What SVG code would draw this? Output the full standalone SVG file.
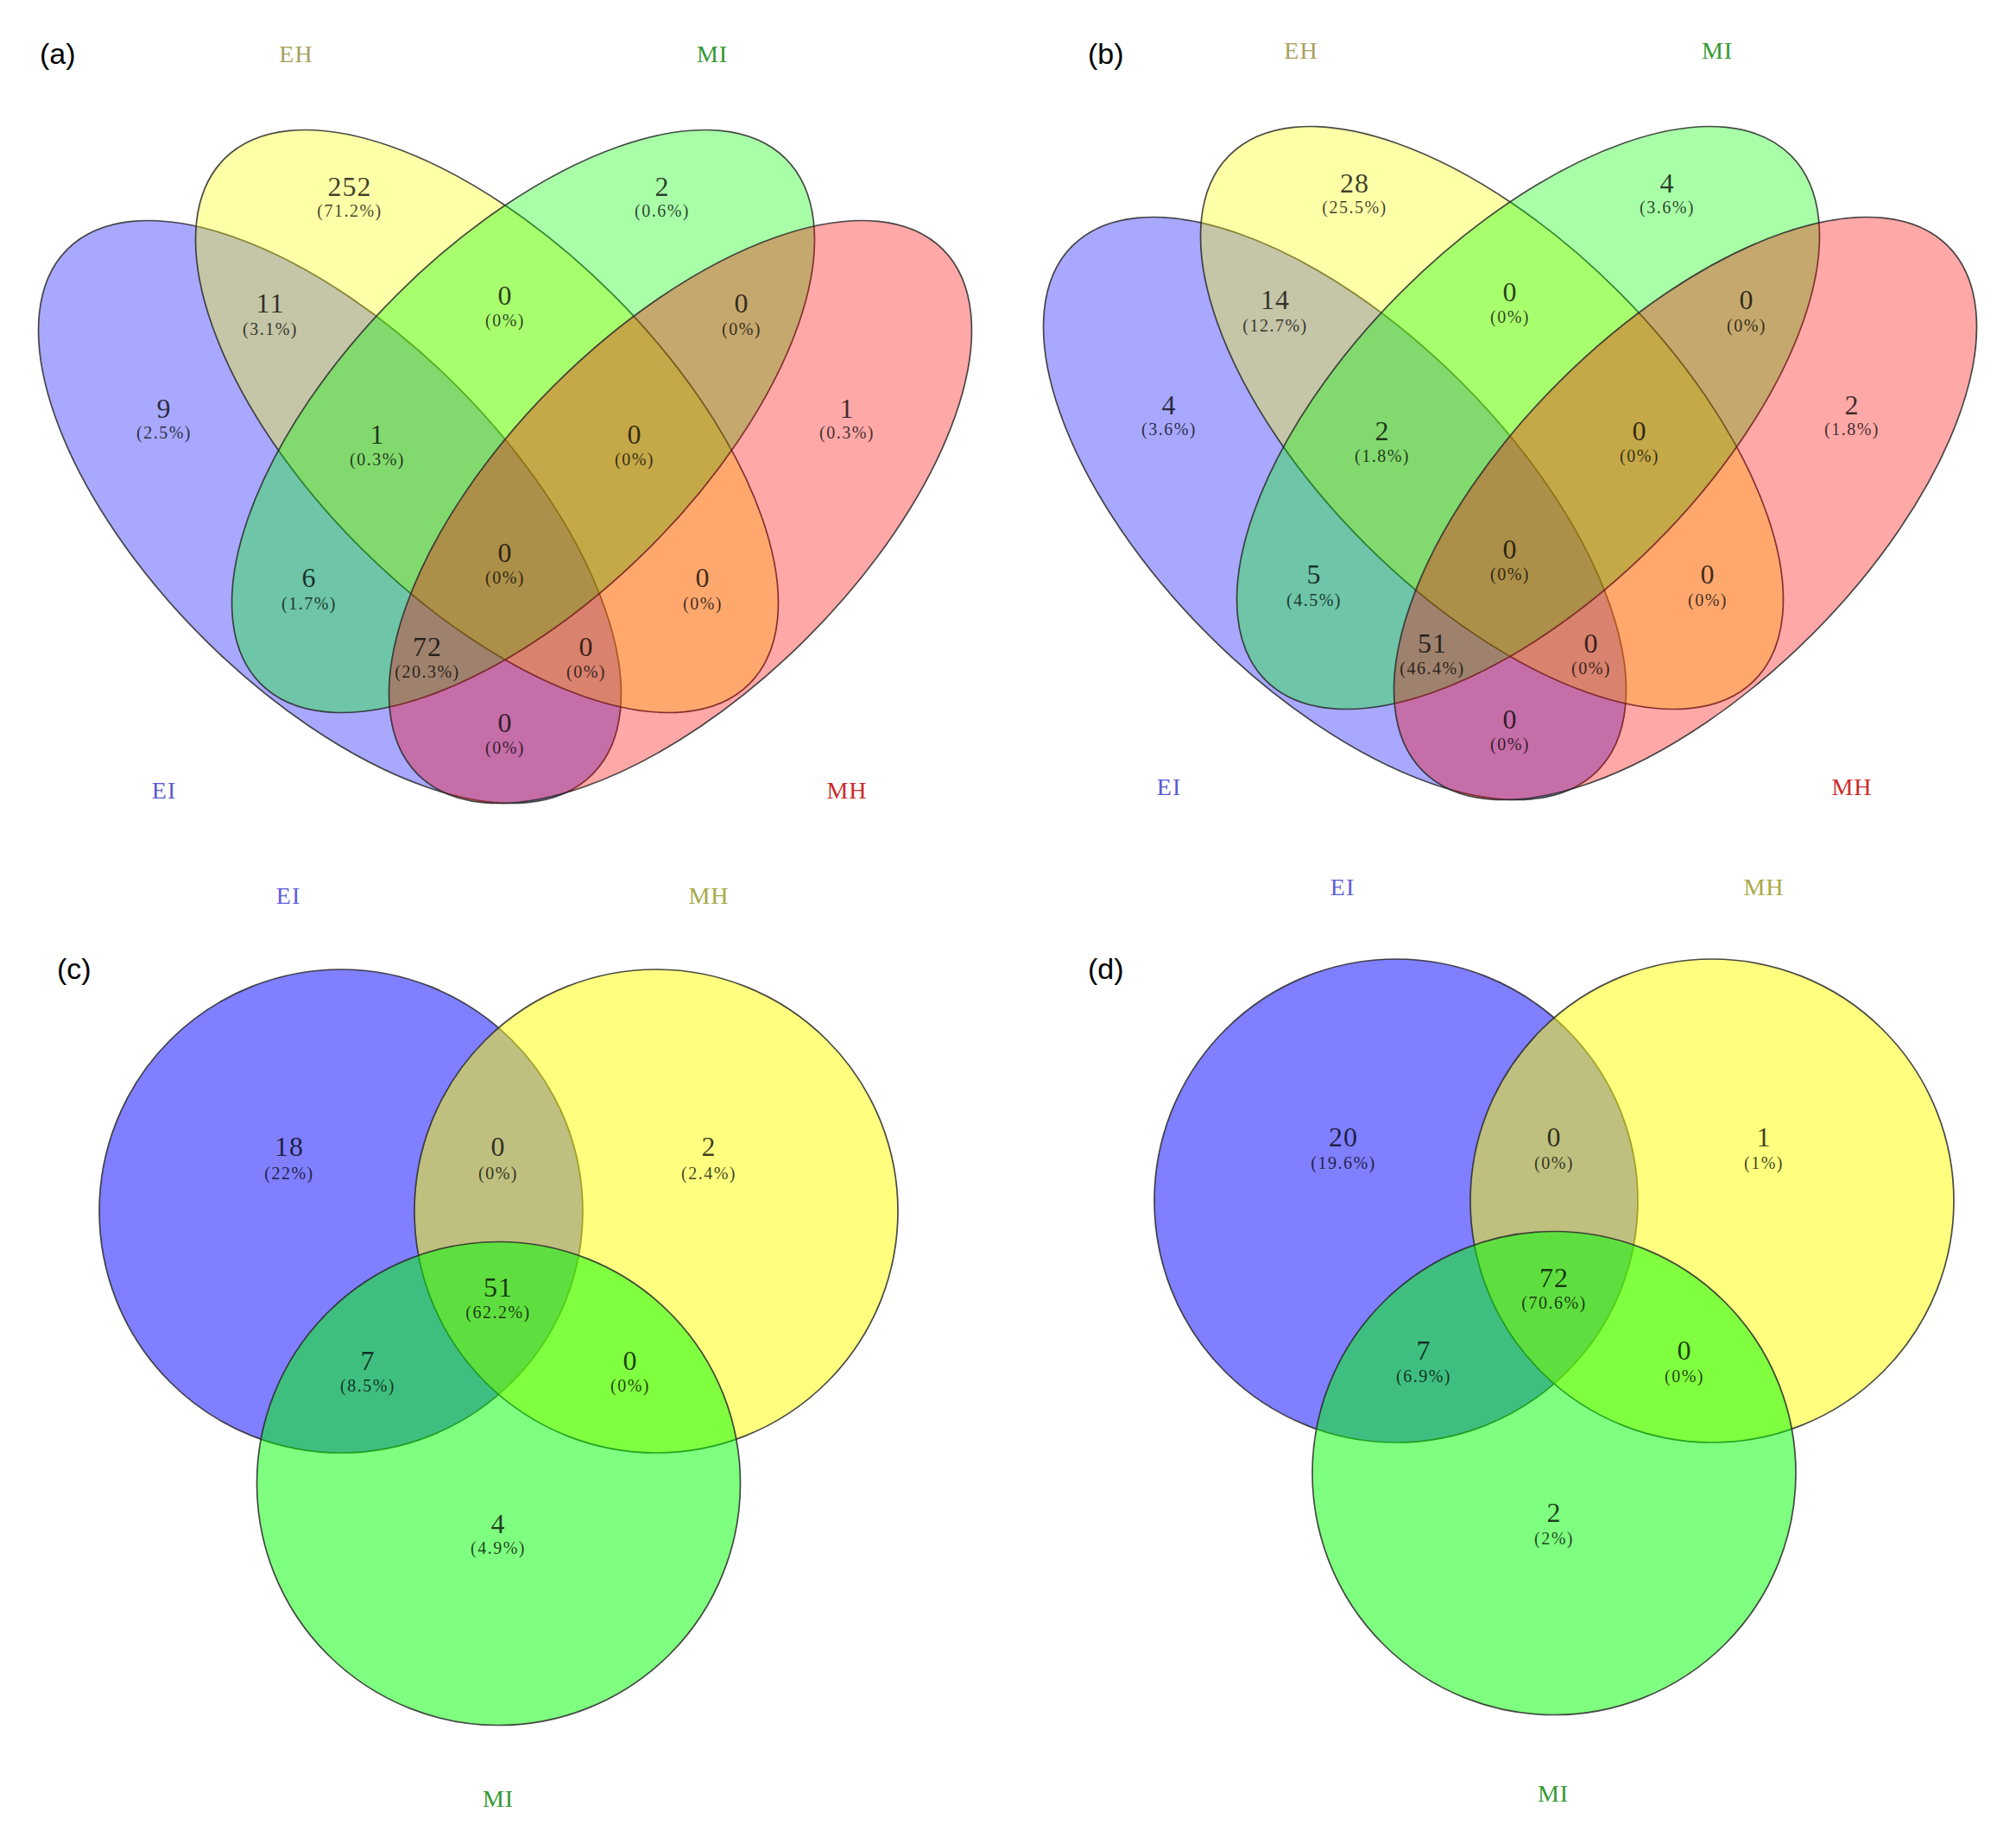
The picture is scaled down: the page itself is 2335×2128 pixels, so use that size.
<svg xmlns="http://www.w3.org/2000/svg" width="2335" height="2128" viewBox="0 0 2335 2128">
<style>
  .bg{fill:#ffffff}
  .e4{stroke:#2a2a2a;stroke-width:1.7;stroke-opacity:0.85;fill-opacity:0.34}
  .c3{stroke:#2a2a2a;stroke-width:1.7;stroke-opacity:0.85;fill-opacity:0.5}
  .blue{fill:#0000ff}
  .yellow{fill:#ffff00}
  .green{fill:#00ff00}
  .red{fill:#ff0000}
  .num{font-family:"Liberation Serif","DejaVu Serif",serif;font-size:32px;text-anchor:middle;fill:#000;fill-opacity:0.75;letter-spacing:1px}
  .pct{font-family:"Liberation Serif","DejaVu Serif",serif;font-size:20px;text-anchor:middle;fill:#000;fill-opacity:0.75;letter-spacing:1.5px}
  .lab{font-family:"Liberation Serif","DejaVu Serif",serif;font-size:28px;text-anchor:middle;letter-spacing:1px}
  .panel{font-family:"Liberation Sans",Arial,sans-serif;font-size:34px;fill:#000}
</style>
<rect class="bg" x="0" y="0" width="2335" height="2128"/>

<!-- Panel (a) -->
<g id="panel-a">
  <text class="panel" x="46" y="74">(a)</text>
  <g id="a-EI"><ellipse class="e4 blue" cx="382" cy="593" rx="430" ry="207" transform="rotate(45 382 593)"/><text class="lab" x="190" y="925" fill="#5a5ad0">EI</text></g>
  <g id="a-EH"><ellipse class="e4 yellow" cx="564" cy="488" rx="430" ry="207" transform="rotate(45 564 488)"/><text class="lab" x="343" y="72" fill="#a8a060">EH</text></g>
  <g id="a-MI"><ellipse class="e4 green" cx="606" cy="488" rx="430" ry="207" transform="rotate(-45 606 488)"/><text class="lab" x="825" y="72" fill="#339933">MI</text></g>
  <g id="a-MH"><ellipse class="e4 red" cx="788" cy="593" rx="430" ry="207" transform="rotate(-45 788 593)"/><text class="lab" x="981" y="925" fill="#cc2a2a">MH</text></g>
  <g id="a-values">
    <text class="num" x="190" y="484">9</text><text class="pct" x="190" y="508">(2.5%)</text>
    <text class="num" x="405" y="227">252</text><text class="pct" x="405" y="251">(71.2%)</text>
    <text class="num" x="767" y="227">2</text><text class="pct" x="767" y="251">(0.6%)</text>
    <text class="num" x="981" y="484">1</text><text class="pct" x="981" y="508">(0.3%)</text>
    <text class="num" x="313" y="362">11</text><text class="pct" x="313" y="388">(3.1%)</text>
    <text class="num" x="585" y="353">0</text><text class="pct" x="585" y="378">(0%)</text>
    <text class="num" x="859" y="362">0</text><text class="pct" x="859" y="388">(0%)</text>
    <text class="num" x="437" y="514">1</text><text class="pct" x="437" y="539">(0.3%)</text>
    <text class="num" x="735" y="514">0</text><text class="pct" x="735" y="539">(0%)</text>
    <text class="num" x="585" y="651">0</text><text class="pct" x="585" y="676">(0%)</text>
    <text class="num" x="358" y="680">6</text><text class="pct" x="358" y="706">(1.7%)</text>
    <text class="num" x="814" y="680">0</text><text class="pct" x="814" y="706">(0%)</text>
    <text class="num" x="495" y="760">72</text><text class="pct" x="495" y="785">(20.3%)</text>
    <text class="num" x="679" y="760">0</text><text class="pct" x="679" y="785">(0%)</text>
    <text class="num" x="585" y="848">0</text><text class="pct" x="585" y="873">(0%)</text>
  </g>
</g>

<!-- Panel (b) -->
<text class="panel" x="1260" y="74">(b)</text>
<g id="panel-b" transform="translate(1164,-4)">
  <g id="b-EI"><ellipse class="e4 blue" cx="382" cy="593" rx="430" ry="207" transform="rotate(45 382 593)"/><text class="lab" x="190" y="925" fill="#5a5ad0">EI</text></g>
  <g id="b-EH"><ellipse class="e4 yellow" cx="564" cy="488" rx="430" ry="207" transform="rotate(45 564 488)"/><text class="lab" x="343" y="72" fill="#a8a060">EH</text></g>
  <g id="b-MI"><ellipse class="e4 green" cx="606" cy="488" rx="430" ry="207" transform="rotate(-45 606 488)"/><text class="lab" x="825" y="72" fill="#339933">MI</text></g>
  <g id="b-MH"><ellipse class="e4 red" cx="788" cy="593" rx="430" ry="207" transform="rotate(-45 788 593)"/><text class="lab" x="981" y="925" fill="#cc2a2a">MH</text></g>
  <g id="b-values">
    <text class="num" x="190" y="484">4</text><text class="pct" x="190" y="508">(3.6%)</text>
    <text class="num" x="405" y="227">28</text><text class="pct" x="405" y="251">(25.5%)</text>
    <text class="num" x="767" y="227">4</text><text class="pct" x="767" y="251">(3.6%)</text>
    <text class="num" x="981" y="484">2</text><text class="pct" x="981" y="508">(1.8%)</text>
    <text class="num" x="313" y="362">14</text><text class="pct" x="313" y="388">(12.7%)</text>
    <text class="num" x="585" y="353">0</text><text class="pct" x="585" y="378">(0%)</text>
    <text class="num" x="859" y="362">0</text><text class="pct" x="859" y="388">(0%)</text>
    <text class="num" x="437" y="514">2</text><text class="pct" x="437" y="539">(1.8%)</text>
    <text class="num" x="735" y="514">0</text><text class="pct" x="735" y="539">(0%)</text>
    <text class="num" x="585" y="651">0</text><text class="pct" x="585" y="676">(0%)</text>
    <text class="num" x="358" y="680">5</text><text class="pct" x="358" y="706">(4.5%)</text>
    <text class="num" x="814" y="680">0</text><text class="pct" x="814" y="706">(0%)</text>
    <text class="num" x="495" y="760">51</text><text class="pct" x="495" y="785">(46.4%)</text>
    <text class="num" x="679" y="760">0</text><text class="pct" x="679" y="785">(0%)</text>
    <text class="num" x="585" y="848">0</text><text class="pct" x="585" y="873">(0%)</text>
  </g>
</g>

<!-- Panel (c) -->
<g id="panel-c">
  <text class="panel" x="66" y="1134">(c)</text>
  <g id="c-EI"><circle class="c3 blue" cx="395" cy="1403" r="280"/><text class="lab" x="334" y="1047" fill="#6060d8">EI</text></g>
  <g id="c-MH"><circle class="c3 yellow" cx="760" cy="1403" r="280"/><text class="lab" x="821" y="1047" fill="#a8a848">MH</text></g>
  <g id="c-MI"><circle class="c3 green" cx="577.5" cy="1718.5" r="280"/><text class="lab" x="577" y="2093" fill="#339933">MI</text></g>
  <g id="c-values">
    <text class="num" x="335" y="1339">18</text><text class="pct" x="335" y="1366">(22%)</text>
    <text class="num" x="577" y="1339">0</text><text class="pct" x="577" y="1366">(0%)</text>
    <text class="num" x="821" y="1339">2</text><text class="pct" x="821" y="1366">(2.4%)</text>
    <text class="num" x="577" y="1502">51</text><text class="pct" x="577" y="1527">(62.2%)</text>
    <text class="num" x="426" y="1587">7</text><text class="pct" x="426" y="1612">(8.5%)</text>
    <text class="num" x="730" y="1587">0</text><text class="pct" x="730" y="1612">(0%)</text>
    <text class="num" x="577" y="1776">4</text><text class="pct" x="577" y="1800">(4.9%)</text>
  </g>
</g>

<!-- Panel (d) -->
<g id="panel-d">
  <text class="panel" x="1260" y="1134">(d)</text>
  <g id="d-EI"><circle class="c3 blue" cx="1617" cy="1391" r="280"/><text class="lab" x="1555" y="1037" fill="#6060d8">EI</text></g>
  <g id="d-MH"><circle class="c3 yellow" cx="1983" cy="1391" r="280"/><text class="lab" x="2043" y="1037" fill="#a8a848">MH</text></g>
  <g id="d-MI"><circle class="c3 green" cx="1800" cy="1706.5" r="280"/><text class="lab" x="1799" y="2087" fill="#339933">MI</text></g>
  <g id="d-values">
    <text class="num" x="1556" y="1328">20</text><text class="pct" x="1556" y="1354">(19.6%)</text>
    <text class="num" x="1800" y="1328">0</text><text class="pct" x="1800" y="1354">(0%)</text>
    <text class="num" x="2043" y="1328">1</text><text class="pct" x="2043" y="1354">(1%)</text>
    <text class="num" x="1800" y="1491">72</text><text class="pct" x="1800" y="1516">(70.6%)</text>
    <text class="num" x="1649" y="1575">7</text><text class="pct" x="1649" y="1601">(6.9%)</text>
    <text class="num" x="1951" y="1575">0</text><text class="pct" x="1951" y="1601">(0%)</text>
    <text class="num" x="1800" y="1763">2</text><text class="pct" x="1800" y="1789">(2%)</text>
  </g>
</g>
</svg>
